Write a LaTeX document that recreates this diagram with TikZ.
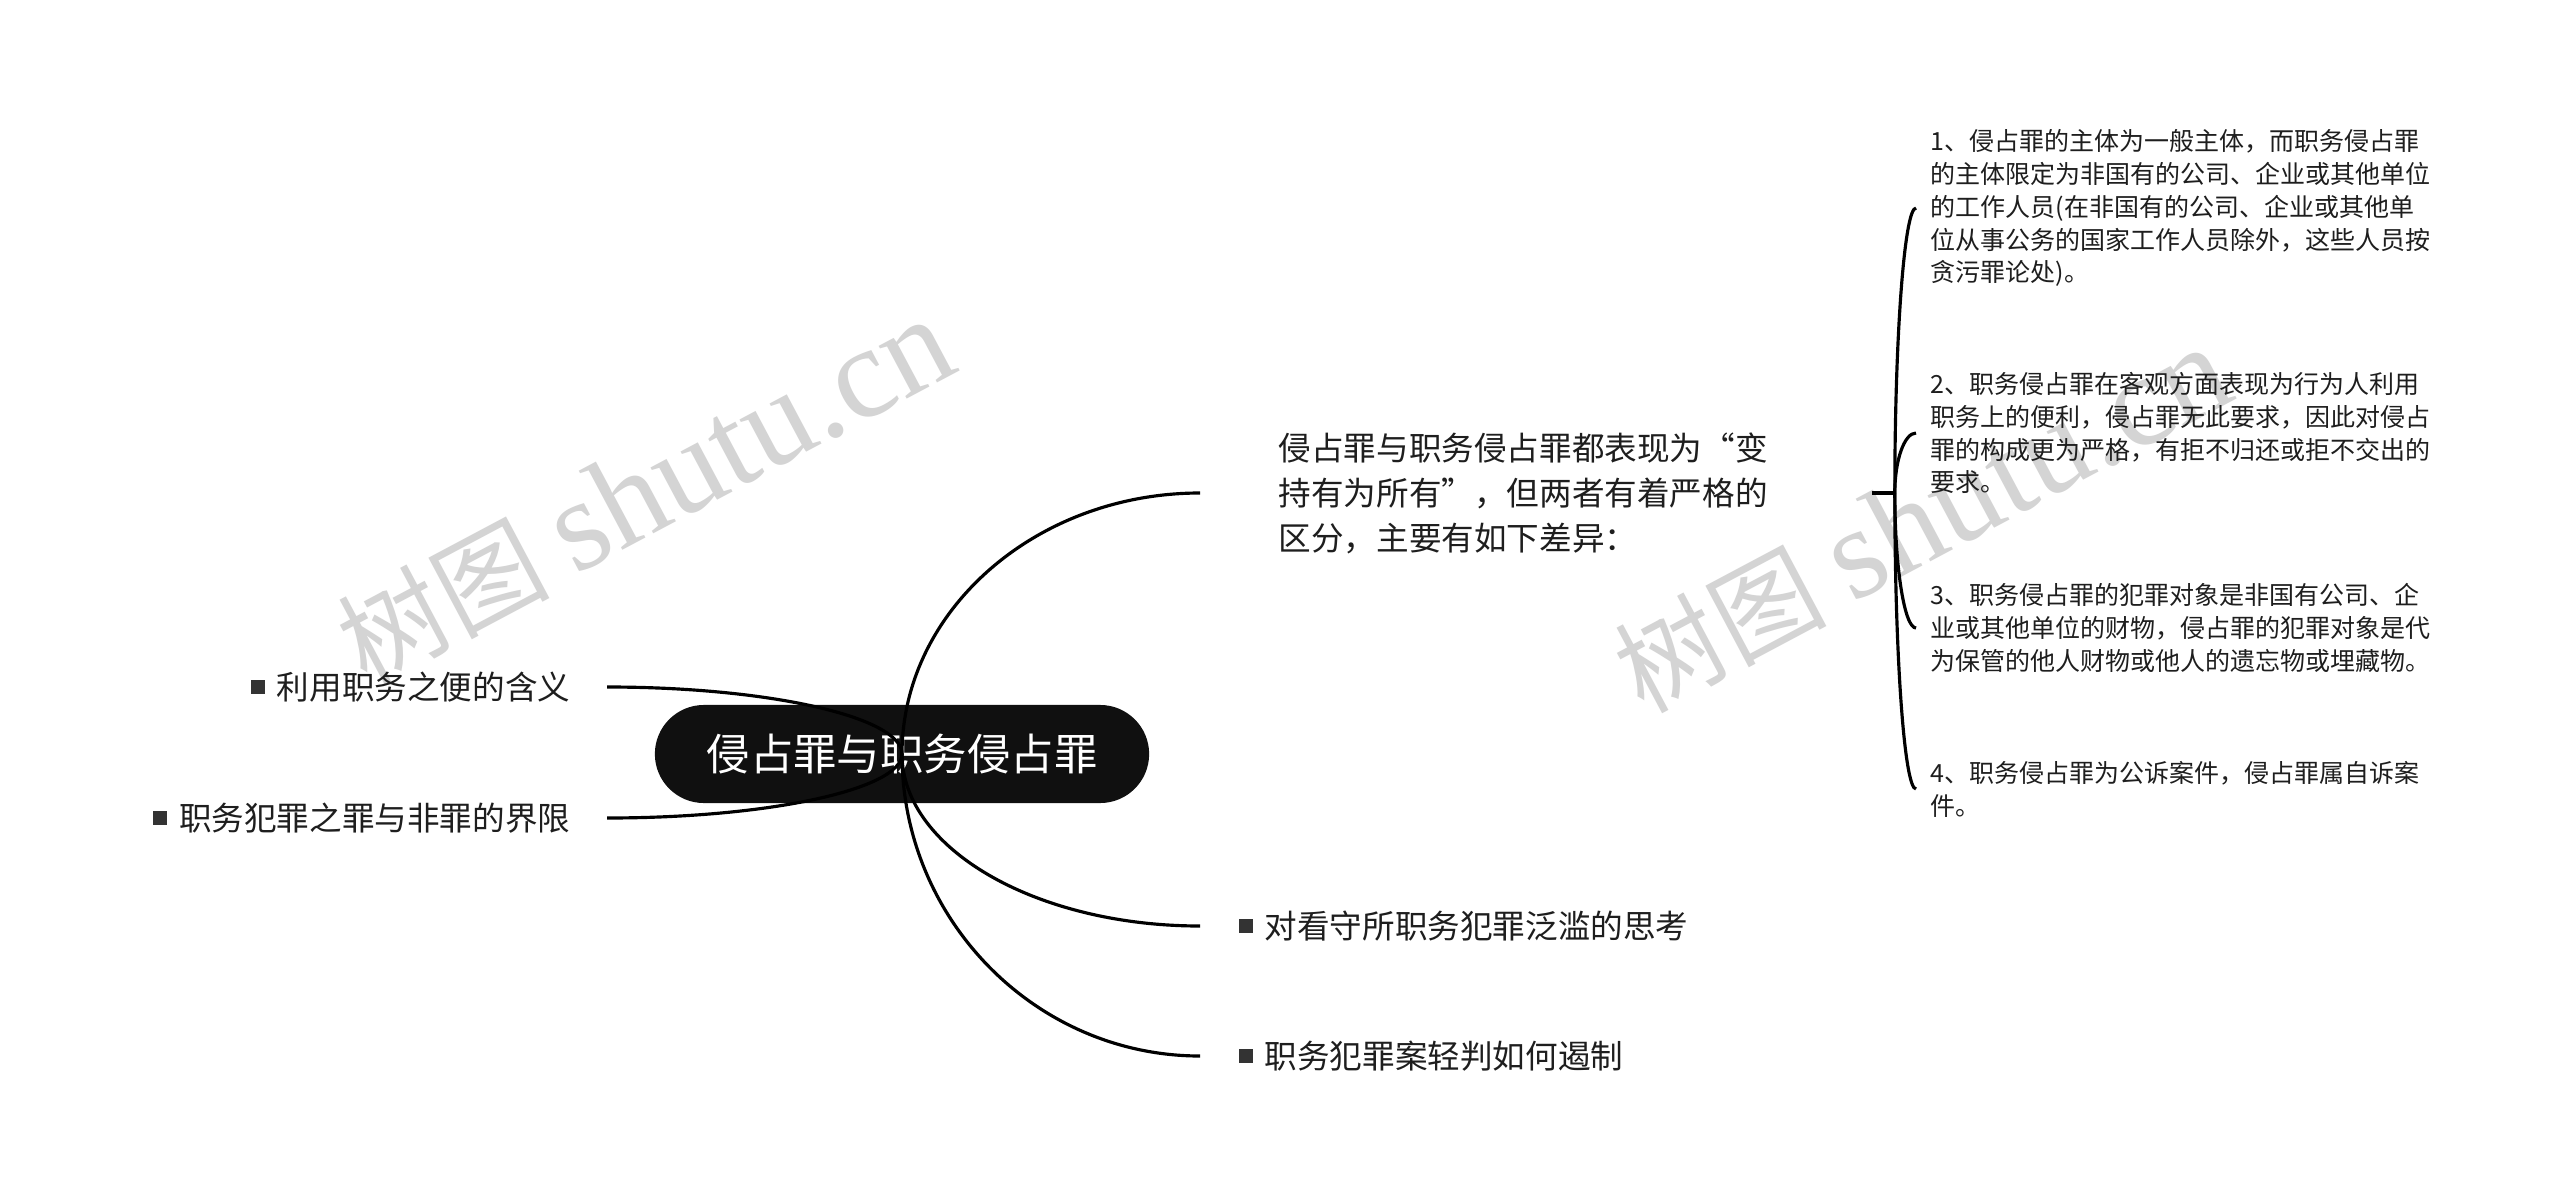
\documentclass[tikz,border=0pt]{standalone}
\usepackage{fontspec}
\usepackage{tikz}
\usetikzlibrary{calc,positioning}
\newfontfamily\cjk{Noto Sans CJK SC}
\newfontfamily\wmlatin{Liberation Serif}
\definecolor{rootfill}{RGB}{16,16,16}
\definecolor{leafgray}{RGB}{51,51,51}
\definecolor{marktext}{RGB}{30,30,30}
\definecolor{wmgray}{RGB}{212,212,212}
\newcommand{\leafmark}{\textcolor{leafgray}{\raisebox{0.055cm}{\rule{0.14cm}{0.14cm}}}\hspace{0.12cm}}
\tikzstyle{branch} = [line width=0.9pt, black]
\tikzstyle{topic}  = [font=\cjk\fontsize{9.27pt}{12.8pt}\selectfont, text=marktext]
\tikzstyle{detail} = [font=\cjk\fontsize{7.11pt}{9.36pt}\selectfont, text=marktext, align=left, inner xsep=0.14cm, anchor=west]

\begin{document}
\begin{tikzpicture}[x=0.01cm, y=-0.01cm,
			root/.style={fill=rootfill, text=white, rounded corners=0.49cm, minimum width=4.94cm, minimum height=0.98cm, font=\cjk\fontsize{12.35pt}{15pt}\selectfont},
			watermark/.style={text=wmgray, rotate=28, inner sep=0pt},
		]

		\path[use as bounding box, fill=white] (0,0) rectangle (2560,1203);

		% watermarks
		\node[watermark] (mark1) at (645,492) {{\cjk\fontsize{30pt}{30pt}\selectfont 树图}\hspace{0.25cm}{\wmlatin\fontsize{37pt}{37pt}\selectfont shutu.cn}};
		\node[watermark] (mark2) at (1922,520) {{\cjk\fontsize{30pt}{30pt}\selectfont 树图}\hspace{0.25cm}{\wmlatin\fontsize{37pt}{37pt}\selectfont shutu.cn}};

		\node[root] (root) at (902,754) {侵占罪与职务侵占罪};

		% right side
		\node[topic, anchor=west, text width=5.14cm, inner xsep=0.78cm, align=left] (diff) at (1200,493)
		{侵占罪与职务侵占罪都表现为“变\\持有为所有”，但两者有着严格的\\区分，主要有如下差异：};
		\node[topic, anchor=west, inner xsep=0.38cm] (watch) at (1200,926) {\leafmark 对看守所职务犯罪泛滥的思考};
		\node[topic, anchor=west, inner xsep=0.38cm] (judge) at (1200,1056) {\leafmark 职务犯罪案轻判如何遏制};

		% left side
		\node[topic, anchor=east, inner xsep=0.36cm] (benefit) at (607,687) {\leafmark 利用职务之便的含义};
		\node[topic, anchor=east, inner xsep=0.36cm] (boundary) at (607,818) {\leafmark 职务犯罪之罪与非罪的界限};

		% details of the differences
		\coordinate (fork) at ([xshift=0.23cm]diff.east);
		\node[detail] (diff1) at (1916,208) {1、侵占罪的主体为一般主体，而职务侵占罪\\的主体限定为非国有的公司、企业或其他单位\\的工作人员(在非国有的公司、企业或其他单\\位从事公务的国家工作人员除外，这些人员按\\贪污罪论处)。};
		\node[detail] (diff2) at (1916,433) {2、职务侵占罪在客观方面表现为行为人利用\\职务上的便利，侵占罪无此要求，因此对侵占\\罪的构成更为严格，有拒不归还或拒不交出的\\要求。};
		\node[detail] (diff3) at (1916,628) {3、职务侵占罪的犯罪对象是非国有公司、企\\业或其他单位的财物，侵占罪的犯罪对象是代\\为保管的他人财物或他人的遗忘物或埋藏物。};
		\node[detail] (diff4) at (1916,789) {4、职务侵占罪为公诉案件，侵占罪属自诉案\\件。};

		% connectors
		\foreach \leaf in {diff,watch,judge}
		\draw[branch] (root.center) .. controls ($(root.center)!0.55!(root.center |- \leaf.west)$) and ($(\leaf.west)!0.55!(root.center |- \leaf.west)$) .. (\leaf.west);
		\foreach \leaf in {benefit,boundary}
		\draw[branch] (root.center) .. controls ($(root.center)!0.55!(root.center |- \leaf.east)$) and ($(\leaf.east)!0.55!(root.center |- \leaf.east)$) .. (\leaf.east);

		\draw[branch] (diff.east) -- (fork);
		\foreach \n in {1,...,4}
		\draw[branch] (fork) .. controls ($(fork)!0.55!(fork |- diff\n.west)$) and ($(diff\n.west)!0.55!(fork |- diff\n.west)$) .. (diff\n.west);
	\end{tikzpicture}
\end{document}
